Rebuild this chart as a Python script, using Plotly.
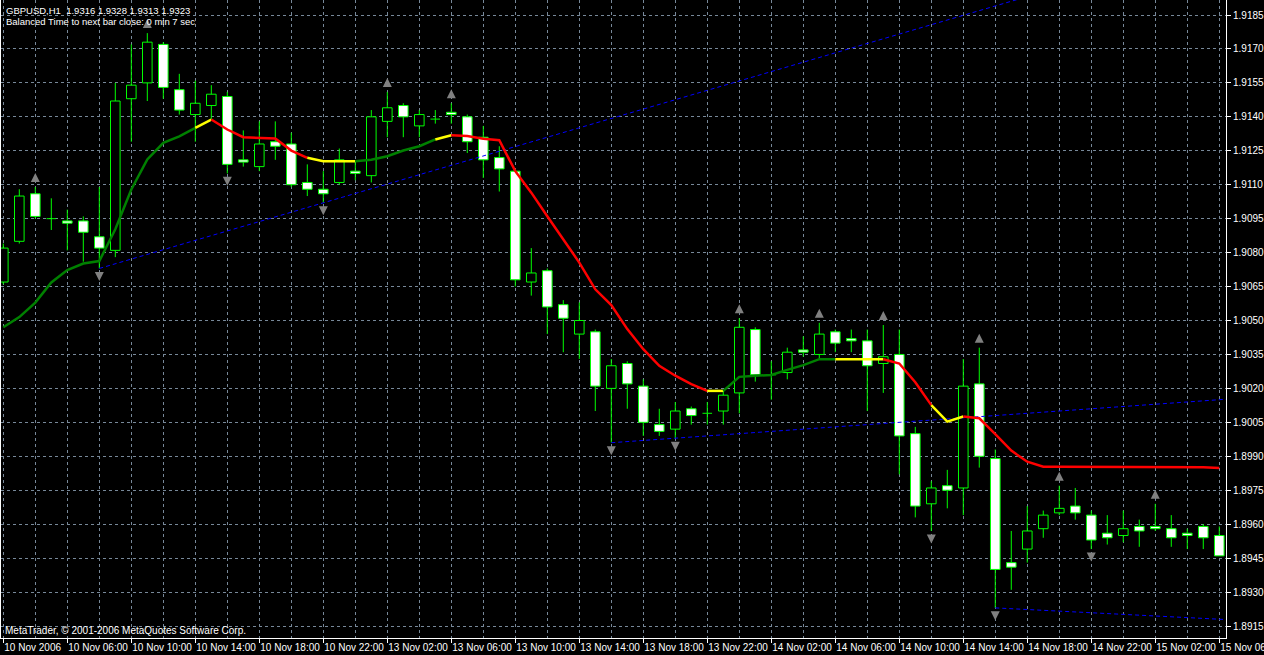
import plotly.graph_objects as go

# ---------------- data (GBPUSD, H1) ----------------
bar_index = list(range(77))

opens = [1.9067, 1.9085, 1.9106, 1.9095, 1.9094, 1.9094, 1.9087, 1.9081, 1.9148, 1.9155,
         1.9172, 1.9152, 1.9141, 1.9145, 1.9149, 1.9121, 1.9118, 1.9129, 1.9128, 1.9111,
         1.9108, 1.9111, 1.9116, 1.9114, 1.9138, 1.9145, 1.9136, 1.9139, 1.9142, 1.9140,
         1.9131, 1.9122, 1.9116, 1.9067, 1.9072, 1.9057, 1.9044, 1.9045, 1.9020, 1.9031,
         1.9021, 1.9004, 1.9002, 1.9011, 1.9009, 1.9010, 1.9018, 1.9046, 1.9026, 1.9027,
         1.9037, 1.9035, 1.9045, 1.9042, 1.9041, 1.9031, 1.9035, 1.9000, 1.8969, 1.8977,
         1.8976, 1.9022, 1.8989, 1.8943, 1.8949, 1.8958, 1.8965, 1.8968, 1.8964, 1.8956,
         1.8955, 1.8959, 1.8959, 1.8958, 1.8956, 1.8959, 1.8955]
highs = [1.9084, 1.9108, 1.9109, 1.9104, 1.9099, 1.9096, 1.9109, 1.9155, 1.9172, 1.9177,
         1.9173, 1.9159, 1.9156, 1.9154, 1.9151, 1.9134, 1.9138, 1.9138, 1.9133, 1.9119,
         1.9116, 1.9126, 1.9120, 1.9143, 1.9151, 1.9146, 1.9143, 1.9143, 1.9146, 1.9141,
         1.9136, 1.9127, 1.9117, 1.9082, 1.9073, 1.9059, 1.9058, 1.9046, 1.9033, 1.9032,
         1.9024, 1.9011, 1.9014, 1.9012, 1.9014, 1.9019, 1.9051, 1.9047, 1.9032, 1.9038,
         1.9043, 1.9049, 1.9046, 1.9046, 1.9046, 1.9048, 1.9046, 1.9003, 1.8979, 1.8984,
         1.9033, 1.9038, 1.8993, 1.8957, 1.8968, 1.8966, 1.8977, 1.8976, 1.8966, 1.8964,
         1.8966, 1.8962, 1.8969, 1.8964, 1.8958, 1.8960, 1.8959]
lows = [1.9066, 1.9084, 1.9095, 1.9090, 1.9081, 1.9076, 1.9073, 1.9078, 1.9129, 1.9147,
        1.9148, 1.9141, 1.9129, 1.9139, 1.9115, 1.9118, 1.9116, 1.9121, 1.9109, 1.9105,
        1.9102, 1.9110, 1.9112, 1.9111, 1.9131, 1.9131, 1.9131, 1.9137, 1.9137, 1.9124,
        1.9113, 1.9107, 1.9065, 1.9061, 1.9044, 1.9036, 1.9033, 1.9010, 1.8996, 1.9011,
        1.8999, 1.8999, 1.8998, 1.9004, 1.9004, 1.9004, 1.9009, 1.9023, 1.9015, 1.9024,
        1.9034, 1.9033, 1.9036, 1.9036, 1.9010, 1.9018, 1.8982, 1.8963, 1.8957, 1.8967,
        1.8964, 1.8985, 1.8923, 1.8931, 1.8943, 1.8954, 1.8964, 1.8962, 1.8949, 1.8951,
        1.8952, 1.8950, 1.8957, 1.8950, 1.8949, 1.8949, 1.8946]
closes = [1.9082, 1.9105, 1.9096, 1.9095, 1.9093, 1.9089, 1.9082, 1.9147, 1.9154, 1.9173,
          1.9153, 1.9143, 1.9146, 1.9150, 1.9119, 1.9120, 1.9128, 1.9127, 1.9110, 1.9108,
          1.9106, 1.9121, 1.9115, 1.9140, 1.9144, 1.9140, 1.9141, 1.9139, 1.9141, 1.9129,
          1.9121, 1.9117, 1.9068, 1.9071, 1.9056, 1.9051, 1.9050, 1.9021, 1.9030, 1.9022,
          1.9005, 1.9001, 1.9010, 1.9008, 1.9009, 1.9017, 1.9047, 1.9026, 1.9026, 1.9036,
          1.9036, 1.9044, 1.9040, 1.9041, 1.9030, 1.9034, 1.8999, 1.8968, 1.8976, 1.8975,
          1.9021, 1.8990, 1.8940, 1.8941, 1.8957, 1.8964, 1.8967, 1.8965, 1.8953, 1.8954,
          1.8958, 1.8957, 1.8958, 1.8954, 1.8955, 1.8954, 1.8946]

# moving-average indicator and its trend state per segment (G up, R down, Y flat)
ma_values = [1.90470, 1.90515, 1.90579, 1.90668, 1.90723, 1.90752, 1.90763, 1.90903, 1.91079, 1.91212,
             1.91285, 1.91314, 1.91351, 1.91388, 1.91344, 1.91310, 1.91307, 1.91304, 1.91251, 1.91219,
             1.91204, 1.91204, 1.91204, 1.91210, 1.91226, 1.91251, 1.91270, 1.91300, 1.91319, 1.91315,
             1.91303, 1.91297, 1.91160, 1.91065, 1.90961, 1.90859, 1.90756, 1.90638, 1.90568, 1.90462,
             1.90373, 1.90300, 1.90256, 1.90219, 1.90189, 1.90189, 1.90251, 1.90256, 1.90259, 1.90282,
             1.90303, 1.90329, 1.90329, 1.90329, 1.90329, 1.90329, 1.90310, 1.90227, 1.90126, 1.90053,
             1.90076, 1.90068, 1.89998, 1.89925, 1.89876, 1.89854, 1.89854, 1.89854, 1.89854, 1.89854,
             1.89854, 1.89854, 1.89854, 1.89854, 1.89854, 1.89851, 1.89848]
ma_state = "GGGGGGGGGGGGYRRRRRRYYYGGGGGYRRRRRRRRRRRRRRRRYGGGGGGGYYYRRRYYRRRRRRRRRRRRRRRR"

up_fractals = [2, 9, 24, 28, 46, 51, 55, 61, 66, 72]
down_fractals = [6, 14, 20, 38, 42, 58, 62, 68]

# trend rays: (start bar, start price, second bar, price at second bar)
trend_rays = [
    (6, lows[6], 20, lows[20]),
    (38, lows[38], 42, lows[42]),
    (62, lows[62], 76, 1.8918),
]

x_tick_bars = list(range(0, 77, 4))
x_tick_labels = ["10 Nov 2006", "10 Nov 06:00", "10 Nov 10:00", "10 Nov 14:00", "10 Nov 18:00",
                 "10 Nov 22:00", "13 Nov 02:00", "13 Nov 06:00", "13 Nov 10:00", "13 Nov 14:00",
                 "13 Nov 18:00", "13 Nov 22:00", "14 Nov 02:00", "14 Nov 06:00", "14 Nov 10:00",
                 "14 Nov 14:00", "14 Nov 18:00", "14 Nov 22:00", "15 Nov 02:00", "15 Nov 06:00"]
y_tick_labels = ["1.8915", "1.8930", "1.8945", "1.8960", "1.8975", "1.8990", "1.9005", "1.9020",
                 "1.9035", "1.9050", "1.9065", "1.9080", "1.9095", "1.9110", "1.9125", "1.9140",
                 "1.9155", "1.9170", "1.9185"]
y_tick_values = [float(s) for s in y_tick_labels]

header_line1 = "GBPUSD,H1\u00a0\u00a01.9316 1.9328 1.9313 1.9323"
header_line2 = "Balanced Time to next bar close: 0 min 7 sec"
footer_text = "MetaTrader, \u00a9 2001-2006 MetaQuotes Software Corp."

# ---------------- styling ----------------
FONT = "Liberation Sans, Arial, sans-serif"
CANDLE = "#00ff00"
GRID = "#778899"
X_RANGE = [-0.144, 76.42]
Y_RANGE = [1.89097, 1.919163]
BODY_W = 0.6

fig = go.Figure()

# candle bodies
bull = [i for i in bar_index if closes[i] > opens[i]]
bear = [i for i in bar_index if closes[i] < opens[i]]
for idx, fill in ((bull, "#000000"), (bear, "#ffffff")):
    fig.add_trace(go.Bar(
        x=idx,
        y=[abs(closes[i] - opens[i]) for i in idx],
        base=[min(closes[i], opens[i]) for i in idx],
        width=BODY_W,
        marker=dict(color=fill, line=dict(color=CANDLE, width=1)),
        hoverinfo="skip", showlegend=False))

# wicks (outside bodies) and doji bars
wx, wy = [], []
for i in bar_index:
    o, h, l, c = opens[i], highs[i], lows[i], closes[i]
    top, bot = max(o, c), min(o, c)
    if h > top:
        wx += [i, i, None]; wy += [h, top, None]
    if l < bot:
        wx += [i, i, None]; wy += [bot, l, None]
    if o == c:
        wx += [i - BODY_W / 2, i + BODY_W / 2, None]; wy += [o, o, None]
fig.add_trace(go.Scatter(x=wx, y=wy, mode="lines", line=dict(color=CANDLE, width=1),
                         hoverinfo="skip", showlegend=False))

# blue trend rays
for b0, p0, b1, p1 in trend_rays:
    slope = (p1 - p0) / (b1 - b0)
    xe = X_RANGE[1]
    fig.add_trace(go.Scatter(x=[b0, xe], y=[p0, p0 + slope * (xe - b0)], mode="lines",
                             line=dict(color="#0000ff", width=1, dash="4px,3px"),
                             hoverinfo="skip", showlegend=False))

# coloured moving average
state_colors = {"G": "#008000", "R": "#ff0000", "Y": "#ffff00"}
start = 0
for k in range(1, len(ma_state) + 1):
    if k == len(ma_state) or ma_state[k] != ma_state[start]:
        xs = bar_index[start:k + 1]
        fig.add_trace(go.Scatter(x=xs, y=ma_values[start:k + 1], mode="lines",
                                 line=dict(color=state_colors[ma_state[start]], width=2.5),
                                 hoverinfo="skip", showlegend=False))
        start = k

# fractal arrows
fig.add_trace(go.Scatter(x=up_fractals, y=[highs[i] + 0.00062 for i in up_fractals], mode="markers",
                         marker=dict(symbol="arrow-up", size=9, color="#808080"),
                         hoverinfo="skip", showlegend=False))
fig.add_trace(go.Scatter(x=down_fractals, y=[lows[i] - 0.00055 for i in down_fractals], mode="markers",
                         marker=dict(symbol="arrow-down", size=9, color="#808080"),
                         hoverinfo="skip", showlegend=False))

txt = dict(family=FONT, size=10, color="#ffffff")
note = dict(family=FONT, size=9.5, color="#ffffff")
fig.update_layout(
    template="none",
    width=1264, height=655,
    margin=dict(l=1, r=38, t=0, b=17),
    paper_bgcolor="#000000", plot_bgcolor="#000000",
    barmode="overlay",
    showlegend=False,
    xaxis=dict(range=X_RANGE, tickvals=x_tick_bars, ticktext=x_tick_labels,
               ticklabelposition="outside right", ticklabeloverflow="allow", tickangle=0,
               showgrid=True, gridcolor=GRID, griddash="3px,3px", gridwidth=1,
               minor=dict(dtick=2, tick0=0, showgrid=True, gridcolor=GRID, griddash="3px,3px", gridwidth=1),
               showline=True, linecolor="#ffffff", linewidth=1,
               ticks="outside", ticklen=4, tickcolor="#ffffff",
               tickfont=txt, zeroline=False, automargin=False, fixedrange=True),
    yaxis=dict(range=Y_RANGE, side="right", tickvals=y_tick_values, ticktext=y_tick_labels,
               ticklabeloverflow="allow",
               showgrid=True, gridcolor=GRID, griddash="3px,3px", gridwidth=1,
               showline=True, mirror=True, linecolor="#ffffff", linewidth=1,
               ticks="outside", ticklen=4, tickcolor="#ffffff",
               tickfont=txt, zeroline=False, automargin=False, fixedrange=True),
    annotations=[
        dict(text=header_line1, xref="paper", yref="paper", x=0, y=1, xanchor="left", yanchor="middle",
             xshift=3, yshift=-10, showarrow=False, font=note),
        dict(text=header_line2, xref="paper", yref="paper", x=0, y=1, xanchor="left", yanchor="middle",
             xshift=3, yshift=-21, showarrow=False, font=note),
        dict(text=footer_text, xref="paper", yref="paper", x=0, y=0, xanchor="left", yanchor="middle",
             xshift=2, yshift=8, showarrow=False, font=txt),
    ],
)

fig.write_html("out.html", include_plotlyjs=True, config={"displayModeBar": False},
               post_script="document.body.style.margin='0';document.body.style.overflow='hidden';")
